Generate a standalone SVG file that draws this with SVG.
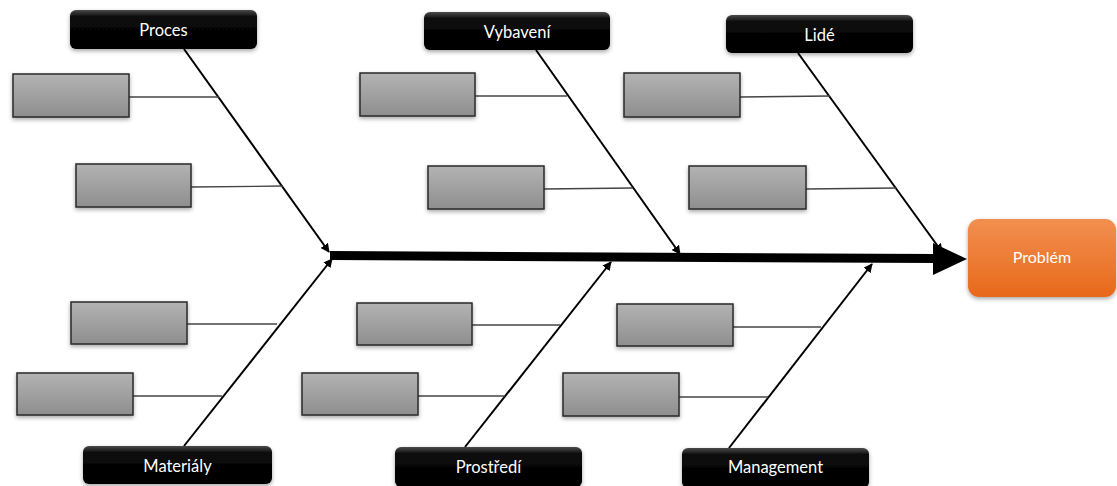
<svg xmlns="http://www.w3.org/2000/svg" width="1117" height="486" viewBox="0 0 1117 486">
<defs>
<linearGradient id="gGray" x1="0" y1="0" x2="0" y2="1">
<stop offset="0" stop-color="#b3b3b3"/>
<stop offset="1" stop-color="#8e8e8e"/>
</linearGradient>
<linearGradient id="gBlack" x1="0" y1="0" x2="0" y2="1">
<stop offset="0" stop-color="#4a4a4a"/>
<stop offset="0.18" stop-color="#0a0a0a"/>
<stop offset="1" stop-color="#000000"/>
</linearGradient>
<linearGradient id="gOrange" x1="0" y1="0" x2="0" y2="1">
<stop offset="0" stop-color="#f28f50"/>
<stop offset="1" stop-color="#e8681a"/>
</linearGradient>
<filter id="sh" x="-10%" y="-20%" width="120%" height="150%">
<feDropShadow dx="0" dy="2" stdDeviation="2" flood-color="#000" flood-opacity="0.35"/>
</filter>
<marker id="arr" viewBox="0 0 10 10" refX="9" refY="5" markerWidth="9" markerHeight="9" markerUnits="userSpaceOnUse" orient="auto">
<path d="M0,0 L10,5 L0,10 Z" fill="#000"/>
</marker>
<style>
.cat{fill:url(#gBlack);filter:url(#sh);}
.cause{fill:url(#gGray);stroke:#2a2a2a;stroke-width:1.5;filter:url(#sh);}
.lbl{font-family:Lato,"Open Sans","Liberation Sans",sans-serif;font-size:16.5px;fill:#fff;text-anchor:middle;}
.bone{stroke:#000;stroke-width:2;fill:none;marker-end:url(#arr);}
.sub{stroke:#444;stroke-width:1.3;fill:none;}
</style>
</defs>

<g id="connectors">
<line x1="330" y1="255.5" x2="936" y2="258.5" stroke="#000" stroke-width="9"/>
<polygon points="933,243 967,259 933,275" fill="#000"/>
<line class="bone" x1="184" y1="49" x2="329" y2="252"/>
<line class="bone" x1="536" y1="50" x2="680" y2="254"/>
<line class="bone" x1="798" y1="53" x2="942" y2="252"/>
<line class="bone" x1="184" y1="446" x2="332" y2="259"/>
<line class="bone" x1="465" y1="447" x2="611" y2="262"/>
<line class="bone" x1="729" y1="448" x2="872" y2="264"/>
<line class="sub" x1="129" y1="97" x2="219" y2="97"/>
<line class="sub" x1="191" y1="187" x2="283" y2="186"/>
<line class="sub" x1="475" y1="96" x2="567" y2="96"/>
<line class="sub" x1="544" y1="189" x2="633" y2="188"/>
<line class="sub" x1="740" y1="97" x2="830" y2="96"/>
<line class="sub" x1="806" y1="189" x2="896" y2="188"/>
<line class="sub" x1="187" y1="324" x2="277" y2="324"/>
<line class="sub" x1="133" y1="396" x2="222" y2="396"/>
<line class="sub" x1="472" y1="325" x2="560" y2="325"/>
<line class="sub" x1="418" y1="396" x2="505" y2="396"/>
<line class="sub" x1="733" y1="327" x2="821" y2="327"/>
<line class="sub" x1="679" y1="397" x2="768" y2="397"/>
</g>

<g id="cause-boxes">
<rect class="cause" x="13" y="74" width="116" height="43"/>
<rect class="cause" x="76" y="164" width="115" height="43"/>
<rect class="cause" x="360" y="73" width="115" height="43"/>
<rect class="cause" x="428" y="166" width="116" height="43"/>
<rect class="cause" x="624" y="73" width="116" height="44"/>
<rect class="cause" x="689" y="166" width="117" height="43"/>
<rect class="cause" x="71" y="302" width="116" height="42"/>
<rect class="cause" x="17" y="373" width="116" height="42"/>
<rect class="cause" x="357" y="303" width="115" height="42"/>
<rect class="cause" x="302" y="373" width="116" height="42"/>
<rect class="cause" x="617" y="304" width="116" height="42"/>
<rect class="cause" x="563" y="373" width="116" height="43"/>
</g>

<g id="proces">
<rect class="cat" x="70" y="10" width="187" height="39" rx="6"/>
<text class="lbl" x="163.5" y="36">Proces</text>
</g>
<g id="vybaveni">
<rect class="cat" x="424" y="12" width="186" height="38" rx="6"/>
<text class="lbl" x="517" y="37.5">Vybavení</text>
</g>
<g id="lide">
<rect class="cat" x="726" y="15" width="187" height="38" rx="6"/>
<text class="lbl" x="819.5" y="41">Lidé</text>
</g>
<g id="materialy">
<rect class="cat" x="83" y="446" width="189" height="38" rx="6"/>
<text class="lbl" x="177.5" y="471.5">Materiály</text>
</g>
<g id="prostredi">
<rect class="cat" x="395" y="447" width="187" height="40" rx="6"/>
<text class="lbl" x="488.5" y="473">Prostředí</text>
</g>
<g id="management">
<rect class="cat" x="682" y="448" width="187" height="40" rx="6"/>
<text class="lbl" x="775.5" y="473">Management</text>
</g>
<g id="problem">
<rect x="968" y="219" width="148" height="78" rx="11" fill="url(#gOrange)" filter="url(#sh)"/>
<text class="lbl" x="1042" y="263" style="font-size:16px">Problém</text>
</g>
</svg>
